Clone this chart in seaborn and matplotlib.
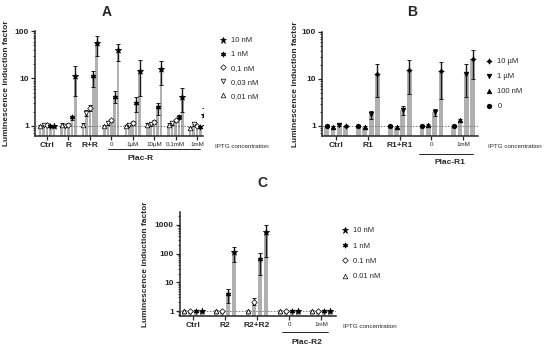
import numpy as np
import pandas as pd
import seaborn as sns
import matplotlib.pyplot as plt
from matplotlib.lines import Line2D
import matplotlib.transforms as mtransforms
from matplotlib.ticker import FixedLocator, LogLocator, NullFormatter

sns.set_style('ticks')
plt.rcParams['font.family'] = ['Liberation Sans', 'DejaVu Sans']

# ---------------- Panel A data ----------------
a_groups = ['Ctrl', 'R', 'R+R', '0', '1µM', '10µM', '0.1mM', '1mM']
a_concs = ['0,01 nM', '0,03 nM', '0,1 nM', '1 nM', '10 nM']
a_c001 = [1.0, 1.05, 1.05, 1.0, 1.0, 1.05, 1.05, 0.9]
a_c003 = [1.05, 1.0, 1.9, 1.15, 1.05, 1.1, 1.15, 1.1]
a_c01 = [1.05, 1.05, 2.4, 1.3, 1.15, 1.2, 1.3, 1.0]
a_c1 = [1.0, 1.5, 11.0, 4.1, 3.1, 2.5, 1.55, 0.95]
a_c10 = [1.0, 11.0, 55.0, 39.0, 14.0, 15.5, 4.1, 1.7]
a_c001_lo = [0.95, 0.98, 0.98, 0.95, 0.95, 0.98, 0.98, 0.85]
a_c001_hi = [1.05, 1.12, 1.12, 1.05, 1.05, 1.12, 1.12, 0.95]
a_c003_lo = [0.98, 0.95, 1.6, 1.05, 0.98, 1.0, 1.05, 1.0]
a_c003_hi = [1.12, 1.05, 2.2, 1.25, 1.12, 1.2, 1.25, 1.2]
a_c01_lo = [0.98, 0.98, 2.1, 1.2, 1.05, 1.1, 1.2, 0.95]
a_c01_hi = [1.12, 1.12, 2.8, 1.4, 1.25, 1.3, 1.4, 1.05]
a_c1_lo = [0.95, 1.35, 6.5, 3.1, 2.0, 1.7, 1.4, 0.9]
a_c1_hi = [1.05, 1.65, 14.0, 5.3, 4.1, 3.1, 1.7, 1.0]
a_c10_lo = [0.95, 4.2, 29.0, 23.0, 4.3, 7.4, 2.0, 1.05]
a_c10_hi = [1.05, 18.0, 78.0, 52.0, 25.0, 23.0, 6.4, 2.4]

# ---------------- Panel B data ----------------
b_groups = ['Ctrl', 'R1', 'R1+R1', '0', '1mM']
b_concs = ['0', '100 nM', '1 µM', '10 µM']
b_c0 = [1.0, 1.0, 1.0, 1.0, 1.0]
b_c100n = [0.95, 0.95, 0.95, 1.05, 1.35]
b_c1u = [1.05, 1.8, 2.2, 2.0, 13.0]
b_c10u = [1.0, 12.7, 15.5, 15.0, 27.0]
b_c0_lo = [0.97, 0.97, 0.97, 0.97, 0.97]
b_c0_hi = [1.03, 1.03, 1.03, 1.03, 1.03]
b_c100n_lo = [0.92, 0.92, 0.92, 1.0, 1.28]
b_c100n_hi = [0.98, 0.98, 0.98, 1.1, 1.42]
b_c1u_lo = [1.0, 1.4, 1.7, 1.6, 4.1]
b_c1u_hi = [1.1, 2.1, 2.6, 2.3, 21.0]
b_c10u_lo = [0.97, 4.1, 4.8, 3.8, 10.0]
b_c10u_hi = [1.03, 21.0, 25.0, 23.0, 42.0]

# ---------------- Panel C data ----------------
c_groups = ['Ctrl', 'R2', 'R2+R2', '0', '1mM']
c_concs = ['0.01 nM', '0.1 nM', '1 nM', '10 nM']
c_c001 = [1.0, 1.0, 1.0, 1.0, 1.0]
c_c01 = [1.0, 1.0, 2.0, 1.0, 1.0]
c_c1 = [1.0, 3.9, 65.0, 1.0, 1.0]
c_c10 = [1.0, 114.0, 570.0, 1.0, 1.0]
c_c001_lo = [0.95, 0.95, 0.95, 0.95, 0.95]
c_c001_hi = [1.05, 1.05, 1.05, 1.05, 1.05]
c_c01_lo = [0.95, 0.95, 1.6, 0.95, 0.95]
c_c01_hi = [1.05, 1.05, 2.8, 1.05, 1.05]
c_c1_lo = [0.93, 1.9, 18.0, 0.93, 0.93]
c_c1_hi = [1.07, 5.8, 104.0, 1.07, 1.07]
c_c10_lo = [0.93, 50.0, 76.0, 0.93, 0.93]
c_c10_hi = [1.07, 170.0, 1000.0, 1.07, 1.07]

BAR = '#b0b0b0'
ERR = '#1a1a1a'

fig = plt.figure(figsize=(5.5, 3.49), dpi=100)
W, H = 550.0, 349.0


def ax_px(l, r, t, b):
    return fig.add_axes([l / W, 1 - b / H, (r - l) / W, (b - t) / H])


def make_df(groups, concs, vals):
    rows = []
    for c, v in zip(concs, vals):
        for g, x in zip(groups, v):
            rows.append({'group': g, 'conc': c, 'value': x})
    return pd.DataFrame(rows)


def draw_panel(ax, groups, concs, vals, los, his, markers, width, gap, yticks):
    df = make_df(groups, concs, vals)
    sns.barplot(data=df, x='group', y='value', hue='conc', order=groups,
                hue_order=concs, palette=[BAR] * len(concs), errorbar=None,
                width=width, gap=gap, legend=False, ax=ax, saturation=1,
                edgecolor='none', linewidth=0)
    for cont, lo, hi, mk in zip(ax.containers, los, his, markers):
        xs = np.array([p.get_x() + p.get_width() / 2 for p in cont])
        hs = np.array([p.get_height() for p in cont])
        lo = np.array(lo)
        hi = np.array(hi)
        ax.errorbar(xs, hs, yerr=[hs - lo, hi - hs], fmt='none', ecolor=ERR,
                    elinewidth=1.0, capsize=1.3, capthick=0.7, zorder=4)
        m, filled, s = mk
        ax.scatter(xs, hs, marker=m, s=s,
                   facecolors='black' if filled else 'white',
                   edgecolors='black', linewidths=0.5, zorder=5)
    ax.set_yscale('log')
    ax.axhline(1, color='#777777', ls=(0, (1.5, 1.5)), lw=0.7, zorder=3)
    ax.set_xlabel('')
    ax.set_ylabel('Luminescence induction factor', fontsize=6, fontweight='bold')
    ax.yaxis.set_major_locator(FixedLocator(yticks))
    ax.yaxis.set_minor_locator(LogLocator(base=10, subs=np.arange(2, 10), numticks=20))
    ax.yaxis.set_minor_formatter(NullFormatter())
    ax.tick_params(axis='both', which='major', length=3, width=0.9, pad=1.5)
    ax.tick_params(axis='y', which='minor', length=1.8, width=0.6)
    ax.tick_params(axis='x', which='minor', length=0)
    for sp in ['left', 'bottom']:
        ax.spines[sp].set_linewidth(1.1)
    sns.despine(ax=ax)
    ax.set_yticks(yticks)
    ax.set_yticklabels([f'{v:g}' for v in yticks], fontsize=6, fontweight='bold')
    ax.set_xticks(range(len(groups)))
    ax.set_xticklabels(groups)
    for t in ax.get_xticklabels():
        if t.get_text() in ('Ctrl', 'R', 'R+R', 'R1', 'R1+R1', 'R2', 'R2+R2'):
            t.set_fontsize(6)
            t.set_fontweight('bold')
        else:
            t.set_fontsize(4.5)


def plac(ax, x0, x1, xlab, yline, ylab, text, axis_bottom_px, axis_h_px):
    tr = mtransforms.blended_transform_factory(ax.transData, ax.transAxes)
    yl = -(yline - axis_bottom_px) / axis_h_px
    yt = -(ylab - axis_bottom_px) / axis_h_px
    ax.add_line(Line2D([x0, x1], [yl, yl], transform=tr, color='black',
                       lw=0.6, clip_on=False))
    ax.text(xlab, yt, text, transform=tr, ha='center', va='center',
            fontsize=6, fontweight='bold', clip_on=False)


def legend(ax, concs, markers, x, y, ls):
    hs = []
    for c, (m, filled, s) in zip(concs, markers):
        hs.append(Line2D([], [], ls='none', marker=m, markersize=np.sqrt(s),
                         markerfacecolor='black' if filled else 'white',
                         markeredgecolor='black', markeredgewidth=0.5, label=c))
    ax.legend(handles=hs[::-1], loc='upper left',
              bbox_to_anchor=(x / W, 1 - y / H), bbox_transform=fig.transFigure,
              frameon=False, fontsize=5.5, borderpad=0, borderaxespad=0,
              handlelength=0.8, handletextpad=0.7, labelspacing=ls)


# ---------- Panel A ----------
axA = ax_px(35, 203, 31, 136)
a_markers = [('^', False, 11), ('v', False, 11), ('D', False, 8),
             ((6, 1, 0), True, 15), ('*', True, 22)]
draw_panel(axA, a_groups, a_concs, [a_c001, a_c003, a_c01, a_c1, a_c10],
           [a_c001_lo, a_c003_lo, a_c01_lo, a_c1_lo, a_c10_lo],
           [a_c001_hi, a_c003_hi, a_c01_hi, a_c1_hi, a_c10_hi],
           a_markers, 0.8, 0.25, [1, 10, 100])
axA.set_ylim(0.61, 100)
axA.set_xlim(-0.56, 7.28)
axA.yaxis.set_label_coords(-0.15, 0.5)
plac(axA, 2.85, 7.14, 4.35, 149, 158, 'Plac-R', 136, 105)
legend(axA, a_concs, a_markers, 220, 37, 0.85)
fig.text(215 / W, 1 - 146 / H, 'IPTG concentration', fontsize=4.5, va='center')
fig.text(107 / W, 1 - 12 / H, 'A', fontsize=10, fontweight='bold',
         ha='center', va='center')

# ---------- Panel B ----------
axB = ax_px(322, 478, 32, 136)
b_markers = [('o', True, 11), ('^', True, 11), ('v', True, 11),
             ((4, 1, 0), True, 15)]
draw_panel(axB, b_groups, b_concs, [b_c0, b_c100n, b_c1u, b_c10u],
           [b_c0_lo, b_c100n_lo, b_c1u_lo, b_c10u_lo],
           [b_c0_hi, b_c100n_hi, b_c1u_hi, b_c10u_hi],
           b_markers, 0.8, 0.25, [1, 10, 100])
axB.set_ylim(0.61, 100)
axB.set_xlim(-0.45, 4.47)
axB.yaxis.set_label_coords(-0.145, 0.5)
plac(axB, 2.61, 4.31, 3.6, 154, 163, 'Plac-R1', 136, 104)
legend(axB, b_concs, b_markers, 486, 58, 1.0)
fig.text(488 / W, 1 - 146 / H, 'IPTG concentration', fontsize=4.5, va='center')
fig.text(412 / W, 1 - 12 / H, 'B', fontsize=10, fontweight='bold',
         ha='center', va='center')

# ---------- Panel C ----------
axC = ax_px(180, 336, 212, 316)
c_markers = [('^', False, 11), ('D', False, 8), ((6, 1, 0), True, 15),
             ('*', True, 22)]
draw_panel(axC, c_groups, c_concs, [c_c001, c_c01, c_c1, c_c10],
           [c_c001_lo, c_c01_lo, c_c1_lo, c_c10_lo],
           [c_c001_hi, c_c01_hi, c_c1_hi, c_c10_hi],
           c_markers, 0.75, 0.25, [1, 10, 100, 1000])
axC.set_ylim(0.67, 2800)
axC.set_xlim(-0.41, 4.47)
axC.yaxis.set_label_coords(-0.2, 0.5)
plac(axC, 2.78, 4.22, 3.56, 332, 343, 'Plac-R2', 316, 104)
legend(axC, c_concs, c_markers, 342, 227, 1.05)
fig.text(343 / W, 1 - 327 / H, 'IPTG concentration', fontsize=4.5, va='center')
fig.text(262 / W, 1 - 183 / H, 'C', fontsize=10, fontweight='bold',
         ha='center', va='center')

fig.savefig('out.png', dpi=100)
